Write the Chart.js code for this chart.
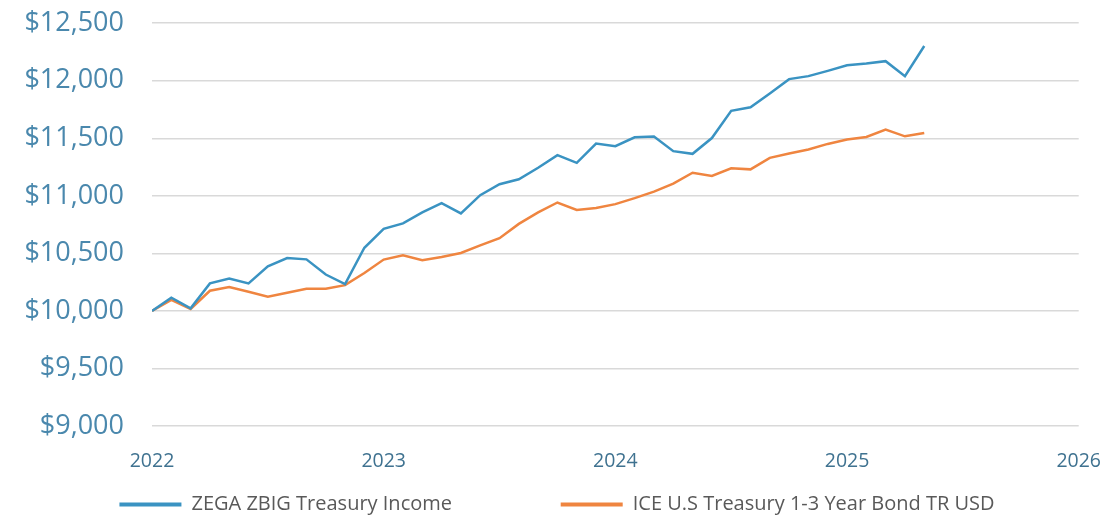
<!DOCTYPE html>
<html>
<head>
<meta charset="utf-8">
<script src="https://cdn.jsdelivr.net/npm/chart.js@4"></script>
<style>
  html, body { margin: 0; padding: 0; background: #fff; }
  #wrap { width: 1114px; height: 517px; }
</style>
</head>
<body>
<div id="wrap"><canvas id="growthChart" width="1114" height="517"></canvas></div>
<script>
// growth of $10,000, monthly from Jan 2022 (index 0) to May 2025 (index 40)
const zegaValues = [
  10000, 10115, 10023, 10239, 10282, 10239, 10388, 10459, 10448, 10316, 10233, 10549,
  10713, 10761, 10856, 10937, 10847, 11006, 11101, 11144, 11244, 11353, 11287, 11454,
  11431, 11509, 11515, 11388, 11365, 11502, 11739, 11770, 11890, 12014, 12040, 12086,
  12135, 12149, 12170, 12040, 12302
];
const iceValues = [
  10000, 10095, 10017, 10175, 10207, 10166, 10123, 10158, 10192, 10192, 10224, 10330,
  10446, 10483, 10440, 10468, 10503, 10569, 10632, 10756, 10856, 10942, 10877, 10894,
  10928, 10980, 11037, 11106, 11201, 11172, 11239, 11230, 11330, 11368, 11402, 11451,
  11489, 11511, 11575, 11517, 11546
];
const seriesNames = ['ZEGA ZBIG Treasury Income', 'ICE U.S Treasury 1-3 Year Bond TR USD'];
const yearTicks = ['2022', '2023', '2024', '2025', '2026'];
const monthsPerYear = 12;

const palette = {
  zega: '#3a93c2',
  ice: '#ef8540',
  grid: '#d9d9d9',
  yTick: '#4a88ad',
  xTick: '#3f7290',
  legend: '#595959'
};

const toPoints = (vals) => vals.map((v, i) => ({ x: i, y: v }));

// legend items sit far apart in the original, pad the first label's text
const legendGap = ' '.repeat(19);

new Chart(document.getElementById('growthChart'), {
  type: 'line',
  data: {
    datasets: [
      {
        label: seriesNames[0],
        data: toPoints(zegaValues),
        borderColor: palette.zega,
        backgroundColor: palette.zega,
        borderWidth: 2.5,
        pointRadius: 0,
        tension: 0
      },
      {
        label: seriesNames[1],
        data: toPoints(iceValues),
        borderColor: palette.ice,
        backgroundColor: palette.ice,
        borderWidth: 2.5,
        pointRadius: 0,
        tension: 0
      }
    ]
  },
  options: {
    responsive: false,
    animation: false,
    layout: { padding: 0 },
    plugins: {
      tooltip: { enabled: false },
      legend: {
        position: 'bottom',
        maxHeight: 32.5,
        labels: {
          color: palette.legend,
          font: { family: '"Open Sans", sans-serif', size: 20 },
          boxWidth: 62,
          boxHeight: 4,
          padding: 10,
          generateLabels: (chart) => {
            const items = Chart.defaults.plugins.legend.labels.generateLabels(chart);
            items.forEach((item, i) => {
              item.lineWidth = 0;
              if (i < items.length - 1) item.text += legendGap;
            });
            return items;
          }
        }
      }
    },
    scales: {
      x: {
        type: 'linear',
        min: 0,
        max: (yearTicks.length - 1) * monthsPerYear,
        grid: { display: false, drawTicks: true, tickLength: 11 },
        border: { display: false },
        afterFit: (scale) => { scale.height = 58.5; },
        ticks: {
          stepSize: monthsPerYear,
          padding: 13,
          color: palette.xTick,
          font: { family: '"Open Sans", sans-serif', size: 19.5 },
          callback: (v) => yearTicks[v / monthsPerYear]
        }
      },
      y: {
        min: 9000,
        max: 12500,
        grid: { color: palette.grid, lineWidth: 1.5, drawTicks: true, tickLength: 21, tickColor: 'rgba(0,0,0,0)' },
        border: { display: false },
        afterFit: (scale) => { scale.width = 152; },
        ticks: {
          stepSize: 500,
          padding: 7,
          color: palette.yTick,
          font: { family: '"Open Sans", sans-serif', size: 27 },
          callback: (v) => '$' + v.toLocaleString('en-US')
        }
      }
    }
  }
});
</script>
</body>
</html>
